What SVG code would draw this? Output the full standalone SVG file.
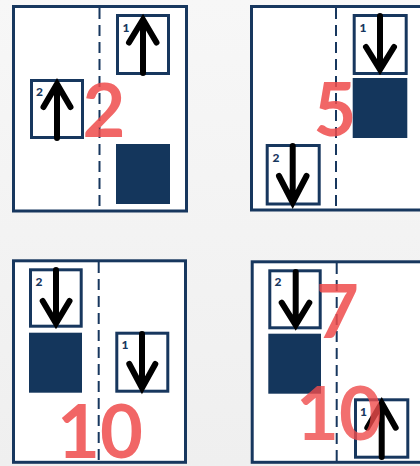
<svg xmlns="http://www.w3.org/2000/svg" width="420" height="466" viewBox="0 0 420 466">
<defs>
<linearGradient id="bg" x1="0" y1="0" x2="0" y2="1">
<stop offset="0" stop-color="#f7f7f7"/>
<stop offset="1" stop-color="#efefef"/>
</linearGradient>
</defs>
<style>
.panel{fill:#ffffff;stroke:#17375e;stroke-width:3}
.lane{stroke:#17375e;stroke-width:2;stroke-dasharray:11 6;fill:none}
.car{fill:#ffffff;stroke:#17375e;stroke-width:3}
.blk{fill:#14365c}
.arr{fill:none;stroke:#000;stroke-width:6;stroke-linejoin:miter;stroke-linecap:round}
.num{font-family:"Lato","Liberation Sans",sans-serif;font-weight:900;font-size:12px;fill:#17375e}
.big{font-family:"Lato","Liberation Sans",sans-serif;font-weight:bold;font-size:74px;fill:#ef4c4c;opacity:0.85;text-anchor:middle}
</style>
<rect width="420" height="466" fill="url(#bg)"/>

<g id="panel1">
<rect class="panel" x="13.5" y="6.5" width="173" height="204.5"/>
<line class="lane" x1="99.5" y1="8" x2="99.5" y2="210"/>
<g id="p1-car1">
<rect class="car" x="117.5" y="15.5" width="51" height="58"/>
<text class="num" x="122.5" y="31.5">1</text>
<path class="arr" d="M143 73V21M129 42.5L143 19.5L156.5 42.5"/>
</g>
<g id="p1-car2">
<rect class="car" x="31.5" y="80.5" width="51" height="57"/>
<text class="num" x="36" y="96">2</text>
<path class="arr" d="M57 138V85M43.5 107L57 84L70.5 107"/>
</g>
<rect id="p1-block" class="blk" x="116" y="144" width="54" height="60"/>
<text class="big" x="104" y="137">2</text>
</g>

<g id="panel2">
<rect class="panel" x="251.5" y="6.5" width="200" height="203.5"/>
<line class="lane" x1="336" y1="8" x2="336" y2="209"/>
<g id="p2-car1">
<rect class="car" x="354.2" y="15.5" width="52" height="58"/>
<text class="num" x="359.5" y="31.5">1</text>
<path class="arr" d="M380 16V67M366 47L380 69.5L394 47"/>
</g>
<rect id="p2-block" class="blk" x="352.7" y="78" width="54.6" height="60"/>
<g id="p2-car2">
<rect class="car" x="267.2" y="145.5" width="52" height="58.5"/>
<text class="num" x="272.5" y="162">2</text>
<path class="arr" d="M292.7 146V200M279 176L292.7 202.5L306.5 176"/>
</g>
<text class="big" x="335" y="136">5</text>
</g>

<g id="panel3">
<rect class="panel" x="13.5" y="260.8" width="172" height="201.5"/>
<line class="lane" x1="98.7" y1="262" x2="98.7" y2="462"/>
<g id="p3-car2">
<rect class="car" x="30.5" y="269.8" width="50.7" height="56.4"/>
<text class="num" x="35.5" y="286">2</text>
<path class="arr" d="M56 270V322M42.7 301L56 323.5L69.5 301"/>
</g>
<rect id="p3-block" class="blk" x="29" y="332.7" width="53" height="60"/>
<g id="p3-car1">
<rect class="car" x="116.8" y="333.2" width="51" height="58"/>
<text class="num" x="121.5" y="349">1</text>
<path class="arr" d="M142 334V386M129.3 364L142 388L155.3 364"/>
</g>
<text class="big" x="100" y="457.5">10</text>
</g>

<g id="panel4">
<rect class="panel" x="252.2" y="261.8" width="200" height="200.5"/>
<line class="lane" x1="336.7" y1="263" x2="336.7" y2="462"/>
<g id="p4-car2">
<rect class="car" x="269.8" y="270.8" width="50.4" height="57"/>
<text class="num" x="274.5" y="286">2</text>
<path class="arr" d="M295.7 272V323M281.7 302.7L295.7 325L309.3 302.7"/>
</g>
<rect id="p4-block" class="blk" x="268.3" y="333.7" width="52.7" height="60"/>
<g id="p4-car1">
<rect class="car" x="355.5" y="399.8" width="52.3" height="57.4"/>
<text class="num" x="360" y="416">1</text>
<path class="arr" d="M381.7 457V405M367.3 427.7L381.7 403L395.7 427.7"/>
</g>
<text class="big" x="337.5" y="337.5">7</text>
<text class="big" x="339" y="439.5" style="opacity:0.8">10</text>
</g>
</svg>
